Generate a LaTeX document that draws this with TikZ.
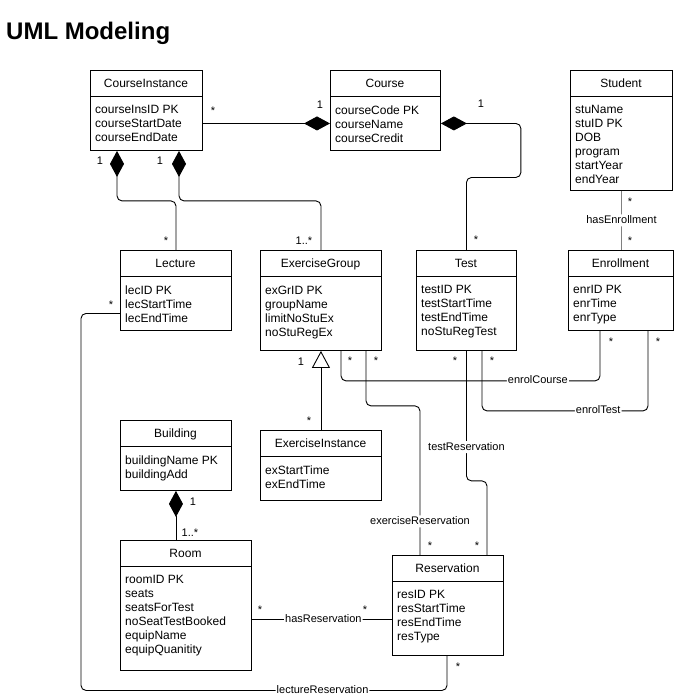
\documentclass[tikz,border=0pt]{standalone}
\usepackage{fontspec}
\setmainfont{Liberation Sans}
\usetikzlibrary{arrows.meta,calc}
\definecolor{lgray}{HTML}{808080}

\tikzset{
 umlbox/.style={draw, line width=0.9pt, inner sep=0pt, anchor=north west},
 umltitle/.style={font=\fontsize{12}{14}\selectfont, inner sep=0pt, text height=8.6pt, text depth=0pt},
 umlattr/.style={font=\fontsize{12}{14}\selectfont, inner sep=0pt, align=left, anchor=north west},
 conn/.style={line width=0.9pt, rounded corners=5pt},
 compS/.style={conn, {Diamond[length=26pt,width=14pt]}-},
 compE/.style={conn, -{Diamond[length=26pt,width=14pt]}},
 genS/.style={conn, {Triangle[open,length=17pt,width=18pt,fill=white]}-},
 lbl/.style={font=\fontsize{11}{13}\selectfont, fill=white, inner sep=1pt, text height=8pt, text depth=2pt},
 mult/.style={font=\fontsize{11}{13}\selectfont, inner sep=0pt, anchor=base},
}

\newcommand\umlclass[7]{%
 \node[umlbox, minimum width=#4pt, minimum height=#5pt] (#1) at (#2,#3) {};
 \draw[line width=0.9pt] (#2,#3+26) -- (#2+#4,#3+26);
 \node[umltitle] (#1-t) at (#2+#4/2,#3+13.5) {#6};
 \node[umlattr] (#1-a) at (#2+5,#3+35.5) {#7};
}
\newcommand\ms[3]{\node[mult] (#1) at (#2,#3+6.3) {*};}
\newcommand\mn[4]{\node[mult] (#1) at (#2,#3+4) {#4};}

\begin{document}
\begin{tikzpicture}[x=1pt,y=-1pt]
\useasboundingbox (0,0) rectangle (674,697);

\node[font=\fontsize{24}{28}\selectfont\bfseries, anchor=base west, inner sep=0pt] (title) at (6,39.3) {UML Modeling};

\umlclass{ci}{90}{70}{112}{80}{CourseInstance}{courseInsID PK\\courseStartDate\\courseEndDate}
\umlclass{co}{330}{70}{110}{80}{Course}{courseCode PK\\courseName\\courseCredit}
\umlclass{st}{570}{70}{102}{120}{Student}{stuName\\stuID PK\\DOB\\program\\startYear\\endYear}
\umlclass{lec}{120}{250}{111}{80}{Lecture}{lecID PK\\lecStartTime\\lecEndTime}
\umlclass{eg}{260}{250}{121}{100}{ExerciseGroup}{exGrID PK\\groupName\\limitNoStuEx\\noStuRegEx}
\umlclass{te}{416}{250}{100}{100}{Test}{testID PK\\testStartTime\\testEndTime\\noStuRegTest}
\umlclass{en}{568}{250}{105}{80}{Enrollment}{enrID PK\\enrTime\\enrType}
\umlclass{bu}{120}{420}{111}{70}{Building}{buildingName PK\\buildingAdd}
\umlclass{ei}{260}{430}{121}{70}{ExerciseInstance}{exStartTime\\exEndTime}
\umlclass{ro}{120}{540}{131}{130}{Room}{roomID PK\\seats\\seatsForTest\\noSeatTestBooked\\equipName\\equipQuanitity}
\umlclass{re}{392}{555}{111}{100}{Reservation}{resID PK\\resStartTime\\resEndTime\\resType}

% connectors
\draw[compE] ([yshift=-13pt]ci.east) -- ([yshift=-13pt]co.west);
\draw[compS] ([xshift=27pt]ci.south west) -- ++(0,50) -| (lec.north);
\draw[compS] ([xshift=89pt]ci.south west) -- ++(0,50) -| (eg.north);
\draw[compS] ([yshift=-13pt]co.east) -- ++(80,0) -- ++(0,54) -| (te.north);
\draw[conn, draw=lgray] (st.south) -- node[lbl] (hasEnr) {hasEnrollment} (st.south |- en.north);
\draw[genS] (eg.south) -- (ei.north);
\draw[conn] ([xshift=81pt]eg.south west) -- ++(0,30) -| node[lbl,pos=0.38] (enrC) {enrolCourse} ([xshift=32pt]en.south west);
\draw[conn] ([xshift=66pt]te.south west) -- ++(0,60) -| node[lbl,pos=0.35] (enrT) {enrolTest} ([xshift=80pt]en.south west);
\draw[conn] ([xshift=106pt]eg.south west) -- ++(0,55) -| node[lbl,pos=0.887] (exR) {exerciseReservation} ([xshift=28pt]re.north west);
\draw[conn] (te.south) -- node[lbl,pos=0.74] (teR) {testReservation} ++(0,130) -| ([xshift=95pt]re.north west);
\draw[conn] ([yshift=-23pt]lec.west) -- ++(-39,0) -- ++(0,377) -| node[lbl,pos=0.33] (lecR) {lectureReservation} ([xshift=55pt]re.south west);
\draw[conn] ([yshift=-14pt]ro.east) -- node[lbl,pos=0.51] (hasR) {hasReservation} ([yshift=-14pt]re.west);
\draw[compS] (bu.south) -- (bu.south |- ro.north);

% multiplicities
\ms{m1}{213}{108}
\mn{m2}{320}{104}{1}
\mn{m3}{100}{160}{1}
\mn{m4}{160}{160}{1}
\ms{m5}{166}{238}
\mn{m6}{304}{240}{1..*}
\mn{m7}{481}{103}{1}
\ms{m8}{476}{237}
\ms{m9}{630}{199}
\ms{m10}{630}{238}
\mn{m11}{301}{361}{1}
\ms{m12}{309}{418}
\ms{m13}{350}{358}
\ms{m14}{376}{358}
\ms{m15}{455}{358}
\ms{m16}{492}{358}
\ms{m17}{611}{339}
\ms{m18}{658}{339}
\ms{m19}{430}{543}
\ms{m20}{477}{543}
\ms{m21}{458}{664}
\ms{m22}{111}{302}
\ms{m23}{260}{607}
\ms{m24}{365}{607}
\mn{m25}{193}{501}{1}
\mn{m26}{190}{532}{1..*}
\end{tikzpicture}
\end{document}
